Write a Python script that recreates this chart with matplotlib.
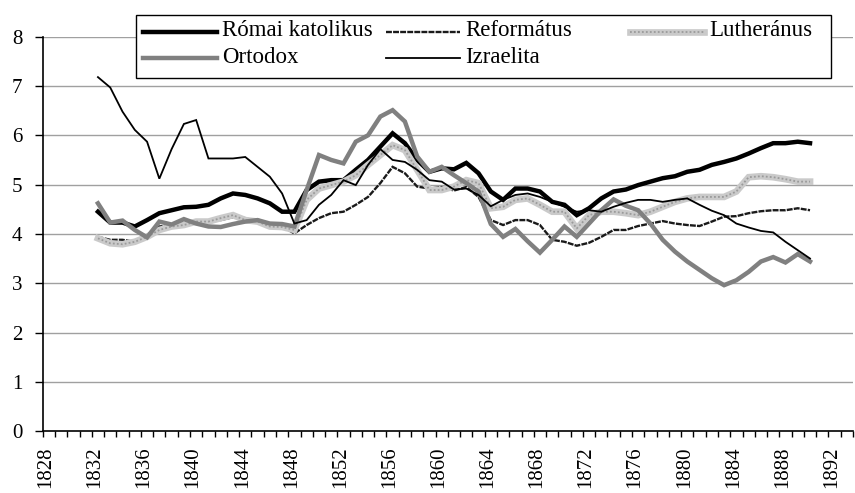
import matplotlib
matplotlib.use('Agg')
import matplotlib.pyplot as plt
from matplotlib.lines import Line2D
from matplotlib.patches import Rectangle

plt.rcParams['font.family'] = ['Liberation Serif', 'DejaVu Serif']

years = list(range(1832, 1891))
romai = [4.45, 4.23, 4.23, 4.15, 4.28, 4.42, 4.48, 4.54, 4.55, 4.59,
         4.72, 4.82, 4.79, 4.72, 4.62, 4.45, 4.45, 4.89, 5.06, 5.09,
         5.09, 5.30, 5.50, 5.77, 6.04, 5.84, 5.50, 5.26, 5.33, 5.31,
         5.44, 5.23, 4.86, 4.69, 4.92, 4.92, 4.86, 4.65, 4.59, 4.38,
         4.52, 4.72, 4.86, 4.90, 4.99, 5.06, 5.13, 5.17, 5.26, 5.30,
         5.40, 5.46, 5.53, 5.63, 5.74, 5.84, 5.84, 5.87, 5.84]
reformatus = [3.94, 3.88, 3.88, 3.84, 3.98, 4.15, 4.18, 4.21, 4.23, 4.25,
              4.28, 4.34, 4.32, 4.25, 4.21, 4.15, 4.01, 4.18, 4.32, 4.42,
              4.45, 4.59, 4.75, 5.03, 5.36, 5.23, 4.96, 4.92, 4.95, 4.88,
              4.95, 4.75, 4.28, 4.18, 4.28, 4.28, 4.18, 3.88, 3.84, 3.76,
              3.82, 3.94, 4.08, 4.08, 4.16, 4.21, 4.26, 4.21, 4.18, 4.16,
              4.25, 4.35, 4.36, 4.42, 4.46, 4.48, 4.48, 4.52, 4.48]
lutheranus = [3.91, 3.81, 3.79, 3.84, 3.94, 4.08, 4.15, 4.18, 4.25, 4.25,
              4.32, 4.38, 4.28, 4.25, 4.15, 4.14, 4.08, 4.69, 4.92, 4.99,
              5.06, 5.19, 5.40, 5.60, 5.80, 5.70, 5.30, 4.89, 4.89, 4.96,
              5.09, 5.03, 4.52, 4.55, 4.69, 4.72, 4.59, 4.45, 4.45, 4.11,
              4.38, 4.45, 4.45, 4.42, 4.38, 4.45, 4.55, 4.65, 4.72, 4.75,
              4.75, 4.75, 4.86, 5.15, 5.17, 5.15, 5.11, 5.06, 5.06]
ortodox = [4.62, 4.23, 4.27, 4.08, 3.93, 4.25, 4.19, 4.30, 4.21, 4.15,
           4.14, 4.20, 4.25, 4.28, 4.21, 4.20, 4.15, 4.89, 5.60, 5.50,
           5.43, 5.87, 6.00, 6.38, 6.51, 6.28, 5.57, 5.26, 5.36, 5.19,
           5.03, 4.86, 4.20, 3.94, 4.10, 3.85, 3.62, 3.88, 4.15, 3.94,
           4.21, 4.48, 4.70, 4.57, 4.48, 4.21, 3.88, 3.64, 3.44, 3.27,
           3.10, 2.96, 3.06, 3.23, 3.44, 3.53, 3.42, 3.59, 3.44]
izraelita = [7.18, 6.97, 6.48, 6.11, 5.87, 5.12, 5.72, 6.23, 6.31, 5.53,
             5.53, 5.53, 5.56, 5.36, 5.16, 4.82, 4.21, 4.28, 4.59, 4.79,
             5.09, 4.99, 5.40, 5.72, 5.50, 5.46, 5.30, 5.09, 5.06, 4.90,
             4.92, 4.79, 4.56, 4.69, 4.79, 4.82, 4.75, 4.65, 4.55, 4.45,
             4.48, 4.45, 4.55, 4.63, 4.69, 4.69, 4.65, 4.69, 4.72, 4.59,
             4.47, 4.38, 4.21, 4.13, 4.06, 4.03, 3.84, 3.67, 3.50]

names = ['Római katolikus', 'Református', 'Lutheránus', 'Ortodox', 'Izraelita']
first_year, last_year = 1828, 1893
label_years = list(range(1828, 1893, 4))
y_ticks = list(range(0, 9))

styles = [
    dict(color='black', lw=3.2, ls='-'),
    dict(color='#1a1a1a', lw=1.7, ls=(0, (2.5, 0.5))),
    dict(color='#cacaca', lw=4.8, ls='-', overlay='#9a9a9a'),
    dict(color='#808080', lw=3.2, ls='-'),
    dict(color='black', lw=1.3, ls='-'),
]
series = [romai, reformatus, lutheranus, ortodox, izraelita]


def draw(target, x, y, st, **kw):
    ln = [Line2D(x, y, color=st['color'], lw=st['lw'], ls=st['ls'],
                 solid_joinstyle='miter', dash_joinstyle='miter', **kw)]
    if 'overlay' in st:
        ln.append(Line2D(x, y, color=st['overlay'], lw=1.3, ls=(0, (1, 1.2)), **kw))
    for l in ln:
        target(l)


fig = plt.figure(figsize=(8.55, 4.93), dpi=100)
ax = fig.add_axes([42.7 / 855, 1 - 431.1 / 493, (853 - 42.7) / 855, (431.1 - 36.7) / 493])

xs = [y - first_year + 0.5 for y in years]
for vals, st in zip(series, styles):
    draw(ax.add_line, xs, vals, st, zorder=3)

ax.set_xlim(0, last_year - first_year + 1)
ax.set_ylim(0, 8)
ax.set_yticks(y_ticks)
ax.set_yticklabels([str(v) for v in y_ticks], fontsize=15)
for v in y_ticks[1:]:
    ax.axhline(v, color='#a0a0a0', lw=1.0, zorder=1)

ax.set_xticks([y - first_year + 0.25 for y in label_years])
ax.set_xticklabels([str(y) for y in label_years], rotation=90, fontsize=15)
ax.tick_params(axis='x', which='major', length=0, pad=11)
ax.set_xticks(range(0, last_year - first_year + 2), minor=True)
ax.tick_params(axis='x', which='minor', length=4.5, width=1, color='black', direction='out')
ax.tick_params(axis='y', which='major', length=5.5, width=1, direction='out', pad=9)

for s in ['top', 'right']:
    ax.spines[s].set_visible(False)
for s in ['left', 'bottom']:
    ax.spines[s].set_linewidth(1.2)
    ax.spines[s].set_zorder(4)

# legend box
lx0, lx1, ly0, ly1 = 136, 831, 15, 78
fig.patches.append(Rectangle((lx0 / 855, 1 - ly1 / 493), (lx1 - lx0) / 855, (ly1 - ly0) / 493,
                             transform=fig.transFigure, facecolor='white', edgecolor='black',
                             lw=1.0, zorder=10))
col_x = [143, 386, 630]
row_y = [31.7, 58.3]
sample_len = 74
for i, (name, st) in enumerate(zip(names, styles)):
    r, c = divmod(i, 3)
    x0 = col_x[c]
    yy = 1 - row_y[r] / 493
    draw(fig.add_artist, [x0 / 855, (x0 + sample_len) / 855], [yy, yy], st,
         transform=fig.transFigure, zorder=11)
    fig.text((x0 + sample_len + 5) / 855, yy + 1.0 / 493, name, fontsize=16.5,
             va='center', ha='left', zorder=12)

fig.savefig('out.png', dpi=100)
